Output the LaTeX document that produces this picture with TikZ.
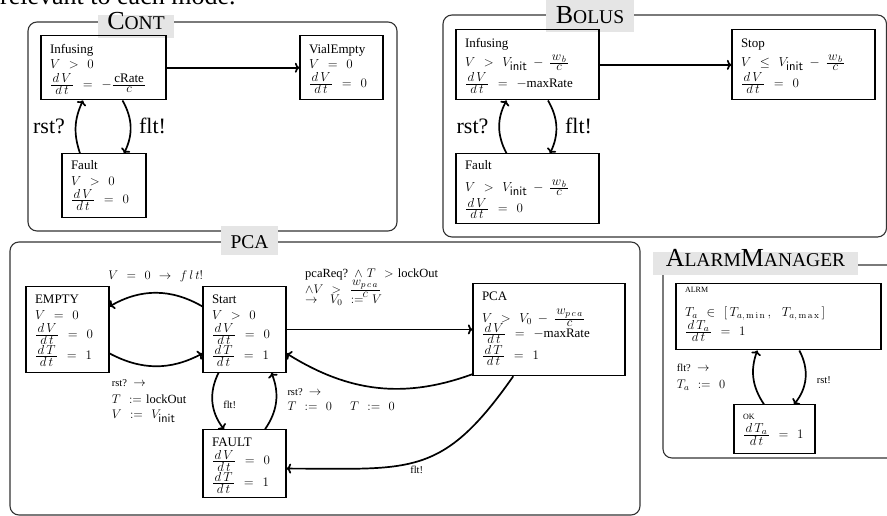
\RequirePackage{fix-cm}
\documentclass[tikz,border=0pt]{standalone}
\usepackage{amsmath}
\usepackage[no-math]{fontspec}
\setmainfont{Liberation Serif}
\usetikzlibrary{arrows.meta}

% fake small capitals for the zone titles
\newcommand{\bigsc}[2]{{\fontsize{26}{26}\selectfont #1}{\fontsize{19.5}{19.5}\selectfont #2}}
% fixed 15pt baselines (also inside the node minipage), roomy math spacing
\newcommand{\widemath}{\normalbaselineskip=15pt\baselineskip=15pt\lineskiplimit=-\maxdimen\thickmuskip=12mu plus 2mu\medmuskip=8mu plus 2mu}
\newcommand{\bxfont}{\fontsize{13}{15}\selectfont\widemath}
\newcommand{\lblfont}{\fontsize{12.5}{15}\selectfont\widemath}
\newcommand{\tinycaps}{\fontsize{8}{10}\selectfont}
\newcommand{\smalltxt}{\fontsize{10.5}{12}\selectfont}
\newcommand{\vinit}{V_{\mbox{\sffamily init}}}
\newcommand{\ls}{\mkern3mu}
% compact fraction with full-size numerator and denominator
\newcommand{\tf}[2]{\frac{\textstyle\mkern2mu #1\mkern2mu}{\textstyle\mkern2mu #2\mkern2mu}}
\newcommand{\dd}[1]{\tf{d\ls #1}{d\ls t}}
\newcommand{\wpca}{w_{p\ls c\ls a}}

\begin{document}
\begin{tikzpicture}[x=1pt,y=1pt,
  stbox/.style={draw, line width=1.2pt, align=left, inner xsep=9pt, inner ysep=0pt, anchor=north, font=\bxfont},
  zone/.style={draw=black!80, line width=1.1pt, rounded corners=9pt},
  zonetitle/.style={fill=black!10, inner xsep=0pt, inner ysep=0pt, anchor=base},
  trans/.style={line width=1.7pt, -{Computer Modern Rightarrow[length=4.5pt,width=10pt]}},
  biglbl/.style={font=\fontsize{22}{22}\selectfont, anchor=base, inner sep=0pt},
  lbl/.style={font=\lblfont, align=left, inner sep=0pt},
]
\useasboundingbox (0,0) rectangle (887,516);
\clip (0,0) rectangle (887,516);

\node[anchor=base west, inner sep=0pt, font=\fontsize{26}{26}\selectfont] (intro) at (0,511.5) {relevant to each mode.};

% ---------------- Cont ----------------
\draw[zone] (28,285) rectangle (397,494);
\node[zonetitle, minimum width=76pt, text height=15pt, text depth=8pt] (tcont) at (136,486) {\bigsc{C}{ONT}};
\node[stbox, text width=107pt, text height=17.7pt, text depth=46.6pt] (ci) at (103.5,481)
  {Infusing\\[0.6pt] $V > 0$\\[4.2pt] $\dd{V} = -\tf{\text{cRate}}{c}$};
\node[stbox, text width=65pt, text height=17.7pt, text depth=46.6pt] (cv) at (341.5,481)
  {VialEmpty\\ $V = 0$\\[3.8pt] $\dd{V} = 0$};
\node[stbox, text width=66pt, text height=16pt, text depth=48pt] (cf) at (104,362.7)
  {Fault\\[0.7pt] $V > 0$\\[3.3pt] $\dd{V} = 0$};
\draw[trans] (ci.east) -- (cv.west);
\draw[trans] ([xshift=19pt]ci.south) to[bend left=28] ([xshift=20pt]cf.north);
\draw[trans] ([xshift=-24pt]cf.north) to[bend left=22] ([xshift=-20.5pt]ci.south);
\node[biglbl] (crst) at (49,382) {rst?};
\node[biglbl] (cflt) at (152.5,382) {flt!};

% ---------------- Bolus ----------------
\draw[zone] (443,279) rectangle (886.5,501);
\node[zonetitle, minimum width=88pt, text height=23.3pt, text depth=8.4pt] (tbolus) at (590,492.7) {\bigsc{B}{OLUS}};
\node[stbox, text width=125pt, text height=17.2pt, text depth=52.8pt] (bi) at (527.5,486.7)
  {Infusing\\[4pt] $V > \vinit - \tf{w_{\mkern2mu b}}{c}$\\[6pt] $\dd{V} = -\text{maxRate}$};
\node[stbox, text width=125pt, text height=17.2pt, text depth=52.8pt] (bs) at (803.5,486.7)
  {Stop\\[4pt] $V \le \vinit - \tf{w_{\mkern2mu b}}{c}$\\[6pt] $\dd{V} = 0$};
\node[stbox, text width=125pt, text height=16pt, text depth=53.4pt] (bf) at (527.5,362.7)
  {Fault\\[6.4pt] $V > \vinit - \tf{w_{\mkern2mu b}}{c}$\\[5.9pt] $\dd{V} = 0$};
\draw[trans] (bi.east) -- (bs.west);
\draw[trans] ([xshift=20.5pt]bi.south) to[bend left=28] ([xshift=22.5pt]bf.north);
\draw[trans] ([xshift=-21pt]bf.north) to[bend left=28] ([xshift=-21pt]bi.south);
\node[biglbl] (brst) at (472.5,382.7) {rst?};
\node[biglbl] (bflt) at (578.5,382.7) {flt!};

% ---------------- PCA ----------------
\draw[zone] (10,1) rectangle (640,274);
\node[zonetitle, minimum width=57pt, text height=22.3pt, text depth=6.7pt] (tpca) at (249.5,267.7) {\fontsize{19.5}{19.5}\selectfont PCA};
\node[stbox, text width=65pt, text height=16.7pt, text depth=69pt] (pe) at (67.5,230)
  {EMPTY\\[1.6pt] $V = 0$\\[3.2pt] $\dd{V} = 0$\\[6.8pt] $\dd{T} = 1$};
\node[stbox, text width=65pt, text height=16.7pt, text depth=69pt] (ps) at (244.5,230)
  {Start\\[1.6pt] $V > 0$\\[3.2pt] $\dd{V} = 0$\\[6.8pt] $\dd{T} = 1$};
\node[stbox, text width=65pt, text height=16.7pt, text depth=50.7pt] (pf) at (244.5,86.7)
  {FAULT\\[3.3pt] $\dd{V} = 0$\\[6.8pt] $\dd{T} = 1$};
\node[stbox, text width=134pt, text height=17.3pt, text depth=75pt] (pp) at (549,233.3)
  {PCA\\[6.7pt] $V > V_0 - \tf{\wpca}{c}$\\ $\dd{V} = -\text{maxRate}$\\[7.2pt] $\dd{T} = 1$};
\draw[trans] ([yshift=23pt]ps.west) to[bend right=30] ([yshift=23pt]pe.east);
\draw[trans] ([yshift=-24pt]pe.east) to[bend right=28] ([yshift=-24pt]ps.west);
\draw[trans] ([xshift=-26pt]ps.south) to[bend right=32] ([xshift=-20.5pt]pf.north);
\draw[trans] ([xshift=20.5pt]pf.north) to[bend right=28] ([xshift=27pt]ps.south);
\draw[trans] (ps.east) -- (pp.west);
\draw[trans] ([yshift=2pt]pp.south west) to[out=200,in=-32] ([yshift=-24pt]ps.east);
\draw[trans] ([xshift=-35.7pt]pp.south) to[out=235,in=0,looseness=1.3] ([yshift=-5pt]pf.east);
\node[lbl, anchor=base] (lempty) at (155.8,236) {$V = 0 \rightarrow f\ls l\ls t!$};
\node[lbl, text width=90pt, anchor=base west] (lreset) at (111.7,129.3)
  {{\smalltxt rst?} $\rightarrow$\\[1.6pt] $T :=$ lockOut\\ $V := \vinit$};
\node[lbl, anchor=base] (lfault) at (229.7,107.7) {\smalltxt flt!};
\node[lbl, text width=170pt, anchor=base west] (lreq) at (305,238.7)
  {pcaReq? $\wedge\ T > $ lockOut\\[1pt] $\wedge V > \tf{\wpca}{c}$\\[-5pt] $\rightarrow\ V_0 := V$};
\node[lbl, text width=60pt, anchor=base west] (lrst) at (287.3,120.3) {{\smalltxt rst?} $\rightarrow$\\[0.3pt] $T := 0$};
\node[lbl, anchor=base west] (lzero) at (350,105) {$T := 0$};
\node[lbl, anchor=base] (lpfl) at (416.7,42) {\smalltxt flt!};

% ---------------- AlarmManager ----------------
\draw[zone] (663,58) rectangle (910,251);
\node[zonetitle, minimum width=205pt, text height=15pt, text depth=8.3pt] (talarm) at (755.5,249.3) {\bigsc{A}{LARM}\bigsc{M}{ANAGER}};
\node[stbox, text width=187pt, text height=9.3pt, text depth=57.3pt] (aa) at (778.5,233.3)
  {{\tinycaps ALRM}\\[8.5pt] $T_a \in [\,T_{a,\,\mathrm{m\,i\,n}}\,,\; T_{a,\,\mathrm{m\,a\,x}}\,]$\\[4pt] $\dd{T_a} = 1$};
\node[stbox, text width=63pt, text height=15pt, text depth=34pt] (ao) at (774.5,111.7)
  {{\tinycaps OK}\\[4pt] $\dd{T_a} = 1$};
\draw[trans] ([xshift=20.8pt]aa.south) to[bend left=34] ([xshift=19.5pt]ao.north);
\draw[trans] ([xshift=-10.5pt]ao.north) to[bend left=27] ([xshift=-21.2pt]aa.south);
\node[lbl, text width=60pt, anchor=base west] (lflt) at (676.7,144.3) {{\smalltxt flt?} $\rightarrow$\\[1.6pt] $T_a := 0$};
\node[lbl, anchor=base west] (lrsta) at (816.7,132.7) {\smalltxt rst!};
\end{tikzpicture}
\end{document}
